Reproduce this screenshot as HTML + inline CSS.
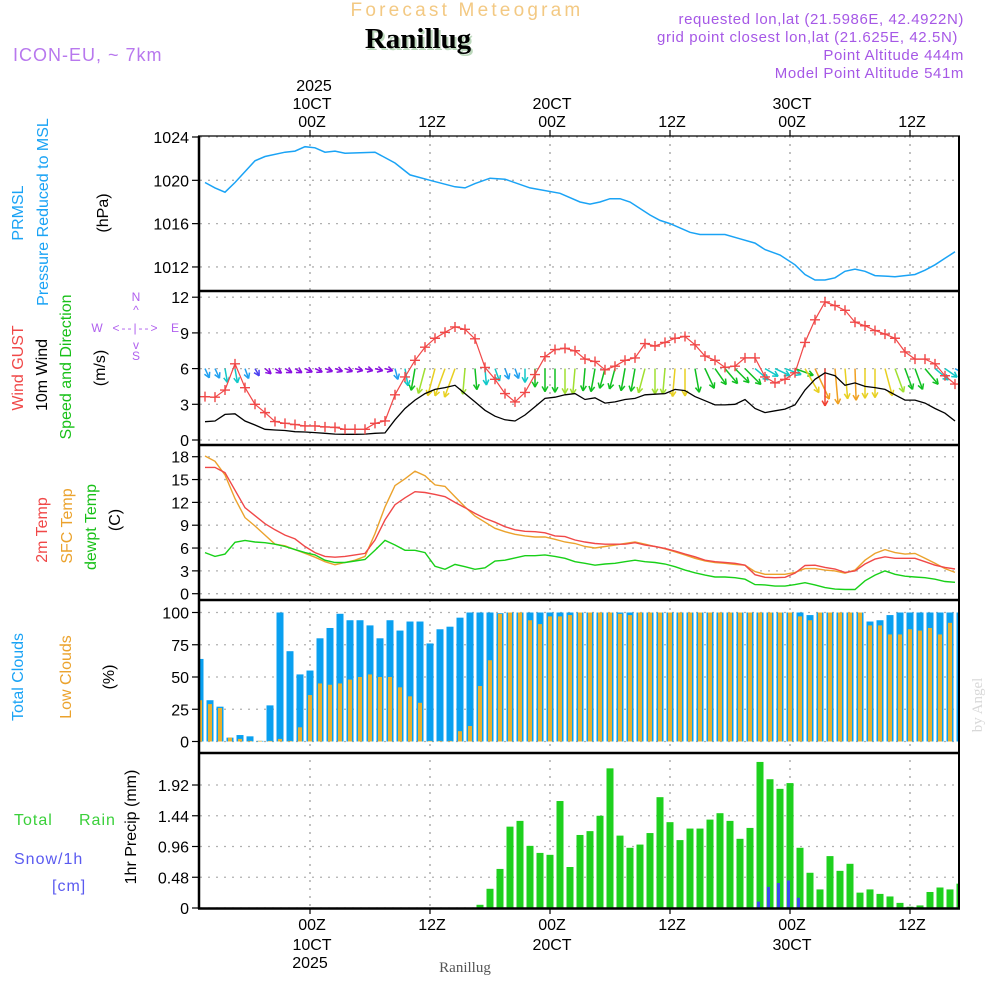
<!DOCTYPE html>
<html><head><meta charset="utf-8"><style>
html,body{margin:0;padding:0;background:#fff;}
svg{display:block;font-family:"Liberation Sans",sans-serif;}
</style></head><body>
<svg id="chart" width="1000" height="1000" viewBox="0 0 1000 1000" xmlns="http://www.w3.org/2000/svg">
<defs>
<clipPath id="plotclip"><rect x="200" y="136" width="759" height="772"/></clipPath>
</defs>
<text x="467" y="16" text-anchor="middle" font-size="19" fill="#f3c983" letter-spacing="3.2">Forecast Meteogram</text>
<text x="420" y="50" text-anchor="middle" font-size="29" font-weight="bold" font-family="Liberation Serif, serif" fill="#bcd8bc">Ranillug</text>
<text x="418" y="48" text-anchor="middle" font-size="29" font-weight="bold" font-family="Liberation Serif, serif" fill="#000">Ranillug</text>
<text x="13" y="61" font-size="18" fill="#b878ee" letter-spacing="1">ICON-EU, ~ 7km</text>
<g font-size="15" fill="#a658e6" text-anchor="end" letter-spacing="0.6">
<text x="964" y="24">requested lon,lat (21.5986E, 42.4922N)</text>
<text x="958" y="42">grid point closest lon,lat (21.625E, 42.5N)</text>
<text x="964" y="60">Point Altitude 444m</text>
<text x="964" y="78">Model Point Altitude 541m</text>
</g>
<text x="465" y="972" text-anchor="middle" font-size="15" font-family="Liberation Serif, serif" fill="#555">Ranillug</text>
<text transform="translate(982,705) rotate(-90)" text-anchor="middle" font-size="15" font-family="Liberation Serif, serif" fill="#d8d8d8">by Angel</text>
<g id="labels" font-size="16"></g>
<g id="grid"></g>
<g id="marks" clip-path="url(#plotclip)"></g>
<g id="axes"></g>
</svg>
<script>
// ---- data ----
const timeTickHours = [11, 23, 35, 47, 59, 71];
const timeTickLabels = ["00Z", "12Z", "00Z", "12Z", "00Z", "12Z"];
const dateLabels = ["10CT", "", "20CT", "", "30CT", ""];
const pressureTicks = [1012, 1016, 1020, 1024];
const windTicks = [0, 3, 6, 9, 12];
const tempTicks = [0, 3, 6, 9, 12, 15, 18];
const cloudTicks = [0, 25, 50, 75, 100];
const precipTicks = [0, 0.48, 0.96, 1.44, 1.92];
const precipTickLabels = ["0", "0.48", "0.96", "1.44", "1.92"];

const pressureHours = [0,1,2,3,5,6,8,9,10,11,12,13,14,17,19,20.5,22.5,25,26,27,28.5,30,32.5,35.5,37.5,38.5,39.5,40.5,41.5,42.5,44.5,45.5,46.5,48.5,49.5,52,53.5,55,56,57.5,59,60,61,62,63,64,65,66,67,69,71,72,73,74,75];
const pressureVals = [1019.8,1019.3,1018.9,1019.8,1021.8,1022.2,1022.6,1022.7,1023.1,1023.0,1022.6,1022.7,1022.5,1022.6,1021.6,1020.5,1020.0,1019.4,1019.3,1019.7,1020.2,1020.1,1019.3,1018.8,1018.0,1017.8,1018.0,1018.3,1018.3,1018.0,1016.8,1016.3,1016.0,1015.2,1015.0,1015.0,1014.6,1014.2,1013.6,1013.1,1012.2,1011.3,1010.8,1010.8,1011.0,1011.6,1011.8,1011.6,1011.2,1011.1,1011.3,1011.7,1012.2,1012.8,1013.4];

const windGust = [3.64,3.6,4.2,6.4,4.4,3.0,2.3,1.55,1.4,1.3,1.18,1.18,1.1,1.06,0.9,0.9,0.9,1.4,1.6,3.8,5.3,6.7,7.8,8.55,9.05,9.5,9.3,8.5,6.1,5.1,3.9,3.2,4.0,5.5,7.0,7.6,7.7,7.5,6.8,6.6,5.9,6.2,6.7,6.9,8.1,7.9,8.2,8.55,8.7,8.0,7.05,6.7,6.1,6.2,6.9,6.9,5.3,4.8,5.1,5.65,8.2,10.1,11.6,11.3,10.9,9.9,9.6,9.2,8.9,8.55,7.4,6.8,6.8,6.4,5.4,4.7];
const windSpeed = [1.54,1.6,2.15,2.2,1.6,1.26,0.9,0.84,0.8,0.7,0.67,0.62,0.56,0.5,0.48,0.48,0.5,0.56,0.6,1.7,2.65,3.35,3.9,4.25,4.4,4.6,3.9,3.2,2.5,2.0,1.7,1.6,2.1,2.8,3.5,3.6,3.8,3.9,3.4,3.55,3.1,3.2,3.4,3.5,3.8,3.85,3.9,4.25,4.15,3.65,3.3,2.95,2.95,3.0,3.4,2.65,2.3,2.45,2.6,2.95,4.2,5.1,5.65,5.4,4.6,4.8,4.5,4.4,4.25,3.8,3.35,3.35,3.1,2.65,2.25,1.6];
const windArrowAngle = [65,65,80,80,70,60,40,35,30,30,25,25,20,20,20,15,15,15,15,75,80,100,105,105,110,110,95,85,85,70,70,70,90,90,90,90,90,95,95,100,105,105,100,100,105,90,95,95,90,80,65,55,50,45,45,40,30,25,20,20,60,65,90,85,85,88,90,90,75,70,70,70,50,40,35,30];

const temp2m = [16.6,16.6,15.9,13.6,11.3,10.25,9.2,8.4,7.7,7.2,6.2,5.4,4.9,4.8,4.9,5.1,5.3,7.05,9.7,11.7,12.6,13.4,13.3,13.05,12.75,12.0,11.3,10.55,9.9,9.4,8.8,8.4,8.2,8.15,8.0,7.6,7.5,7.05,6.8,6.6,6.5,6.5,6.5,6.7,6.4,6.2,5.95,5.6,5.2,4.85,4.4,4.2,4.1,4.0,3.75,2.5,2.15,2.1,2.15,2.7,3.7,3.75,3.45,3.25,2.8,3.0,3.9,4.55,4.85,4.65,4.65,4.65,4.2,3.75,3.45,3.25];
const tempSfc = [18.1,17.4,15.6,12.5,10.0,8.9,7.7,6.5,6.3,5.8,5.3,4.8,4.2,3.8,4.1,4.4,4.9,7.9,11.4,14.2,15.1,16.1,15.5,14.3,14.1,12.75,11.4,10.2,9.4,8.6,8.15,7.8,7.6,7.45,7.45,7.15,6.8,6.6,6.2,6.0,6.2,6.4,6.6,6.8,6.5,6.2,5.9,5.5,5.1,4.65,4.3,4.1,4.0,3.85,3.75,2.9,2.55,2.55,2.55,2.8,3.3,3.3,3.1,3.0,2.7,3.1,4.4,5.3,5.8,5.4,5.2,5.3,4.65,4.0,3.3,2.8];
const tempDew = [5.4,4.9,5.2,6.75,7.0,6.8,6.7,6.5,6.2,5.8,5.4,5.1,4.4,4.1,4.1,4.3,4.5,5.7,7.0,6.4,5.7,5.7,5.4,3.6,3.2,3.85,3.55,3.2,3.4,4.3,4.4,4.7,5.0,5.0,5.1,4.9,4.65,4.2,4.0,3.75,3.9,4.0,4.2,4.4,4.2,4.1,3.9,3.55,3.1,2.75,2.45,2.2,2.2,2.1,1.9,1.2,1.15,1.0,1.0,1.2,1.45,1.15,0.8,0.6,0.55,0.55,1.7,2.45,3.0,2.55,2.3,2.2,2.1,1.9,1.6,1.5];

const cloudTotal = [64,32,27,3,5,4,0.5,28,100,70,52,55,80,88,99,94,94,90,80,94,86,93,93,76,87,89,96,100,100,100,99.5,100,100,100,100,100,100,100,100,100,100,100,100,100,100,100,100,100,100,100,100,100,100,100,100,100,100,100,100,100,100,98,100,100,100,100,100,93,94,98,100,100,100,100,100,100,100];
const cloudLow = [32,29,26,3,2,0.5,0.5,0.5,2,0.5,11,36,45,44,45,48,50,52,50,50,42,35,30,0.5,0.5,0.5,8,12,43,63,99,100,100,94,91,97,97,98,100,100,100,100,99,98,100,100,100,100,100,100,100,100,100,100,100,100,100,100,100,100,97,94,100,100,100,100,100,90,90,83,83,87,86,88,83,92,82];

const precipRain = [0,0,0,0,0,0,0,0,0,0,0,0,0,0,0,0,0,0,0,0,0,0,0,0,0,0,0,0,0.05,0.30,0.61,1.27,1.36,0.97,0.86,0.83,1.67,0.64,1.14,1.20,1.44,2.18,1.13,0.94,0.99,1.17,1.73,1.34,1.06,1.24,1.24,1.38,1.48,1.36,1.08,1.25,2.28,2.01,1.86,1.95,0.94,0.55,0.29,0.81,0.58,0.69,0.24,0.29,0.22,0.18,0.08,0.02,0.04,0.25,0.32,0.29,0.38];
const precipSnow = [0,0,0,0,0,0,0,0,0,0,0,0,0,0,0,0,0,0,0,0,0,0,0,0,0,0,0,0,0,0,0,0,0,0,0,0,0,0,0,0,0,0,0,0,0,0,0,0,0,0,0,0,0,0,0,0,0.10,0.33,0.39,0.43,0.16,0,0,0,0,0,0,0,0,0,0,0,0,0,0,0,0];

// ---- scales ----
const NS = "http://www.w3.org/2000/svg";
const X0 = 200, X1 = 959, PX = 10;
const xBar = j => X0 + j * PX;
const xLine = k => X0 + (k + 0.5) * PX;
const yP = p => 137 + (1024 - p) * 10.83;
const yW = v => 440 - v * 11.9;
const yT = t => 593.7 - t * 7.61;
const yC = c => 741.5 - c * 1.29;
const yR = r => 908 - r * 64.06;

const labels = document.getElementById('labels');
const grid = document.getElementById('grid');
const marks = document.getElementById('marks');
const axes = document.getElementById('axes');

function mk(tag, parent, attrs) {
  const e = document.createElementNS(NS, tag);
  for (const k in attrs) e.setAttribute(k, attrs[k]);
  parent.appendChild(e);
  return e;
}
function txt(parent, x, y, s, attrs) {
  const e = mk('text', parent, Object.assign({x: x, y: y}, attrs || {}));
  e.textContent = s;
  return e;
}

// ---- grid ----
function hgrid(vals, fy, name) {
  vals.forEach(v => {
    const l = mk('line', grid, {x1: X0, x2: X1, y1: fy(v), y2: fy(v), stroke: '#b0b0b0', 'stroke-width': 1.3, 'stroke-dasharray': '2,6'});
    
    
  });
}
hgrid(pressureTicks, yP, 'pressure');
hgrid(windTicks, yW, 'wind');
hgrid(tempTicks, yT, 'temp');
hgrid(cloudTicks, yC, 'cloud');
hgrid(precipTicks, yR, 'precip');
timeTickHours.forEach(h => {
  const l = mk('line', grid, {x1: xBar(h), x2: xBar(h), y1: 136, y2: 908, stroke: '#a0a0a0', 'stroke-width': 1.3, 'stroke-dasharray': '2,6'});
  
  
});

// ---- pressure ----
{
  const d = pressureHours.map((h, i) => (i ? 'L' : 'M') + xLine(h).toFixed(1) + ',' + yP(pressureVals[i]).toFixed(1)).join('');
  const p = mk('path', marks, {d: d, fill: 'none', stroke: '#1aa3f5', 'stroke-width': 1.5});
  
  
}

// ---- wind ----
function speedColor(s) {
  if (s < 1.1) return '#8a10e0';
  if (s < 1.3) return '#4a40f0';
  if (s < 2.0) return '#20a0f0';
  if (s < 2.8) return '#10c8c8';
  if (s < 3.7) return '#10c020';
  if (s < 4.0) return '#a0e030';
  if (s < 4.7) return '#e8d020';
  if (s < 5.5) return '#f0a020';
  return '#f04030';
}
windSpeed.forEach((s, k) => {
  const x = xLine(k), y = yW(6);
  const len = Math.max(8, s * 6.6);
  const a = windArrowAngle[k] * Math.PI / 180;
  const hx = x + len * Math.cos(a), hy = y + len * Math.sin(a);
  const c = speedColor(s);
  const g = mk('g', marks, {stroke: c, 'stroke-width': 1.5, fill: 'none'});
  
  
  mk('line', g, {x1: x, y1: y, x2: hx, y2: hy});
  [0.5, -0.5].forEach(da => {
    const b = a + Math.PI + da;
    mk('line', g, {x1: hx, y1: hy, x2: hx + 6 * Math.cos(b), y2: hy + 6 * Math.sin(b)});
  });
});
{
  const d = windSpeed.map((v, k) => (k ? 'L' : 'M') + xLine(k) + ',' + yW(v).toFixed(1)).join('');
  const p = mk('path', marks, {d: d, fill: 'none', stroke: '#000', 'stroke-width': 1.3});
  
  
  const d2 = windGust.map((v, k) => (k ? 'L' : 'M') + xLine(k) + ',' + yW(v).toFixed(1)).join('');
  const p2 = mk('path', marks, {d: d2, fill: 'none', stroke: '#f04848', 'stroke-width': 1.2});
  
  
  windGust.forEach((v, k) => {
    const x = xLine(k), y = yW(v);
    const m = mk('path', marks, {d: `M${x-5},${y}H${x+5}M${x},${y-5}V${y+5}`, stroke: '#f04848', 'stroke-width': 1.4});
    
    
  });
}

// ---- temperature ----
[[tempSfc, '#eba22c', 'sfc-temp-line'], [temp2m, '#f04848', 'temp-2m-line'], [tempDew, '#18d018', 'dewpoint-line']].forEach(([arr, col, name]) => {
  const d = arr.map((v, k) => (k ? 'L' : 'M') + xLine(k) + ',' + yT(v).toFixed(1)).join('');
  const p = mk('path', marks, {d: d, fill: 'none', stroke: col, 'stroke-width': 1.4});
  
  
});

// ---- clouds ----
cloudTotal.forEach((v, j) => {
  const x = xBar(j);
  const r = mk('rect', marks, {x: x - 3.5, y: yC(v), width: 7, height: yC(0) - yC(v), fill: '#0aa0f0'});
  
  
  const lv = cloudLow[j];
  const r2 = mk('rect', marks, {x: x - 2, y: yC(lv), width: 4, height: yC(0) - yC(lv), fill: '#e8b030'});
  
  
});

// ---- precipitation ----
precipRain.forEach((v, j) => {
  if (v <= 0) return;
  const x = xBar(j);
  const r = mk('rect', marks, {x: x - 3.5, y: yR(v), width: 7, height: yR(0) - yR(v), fill: '#1ed01e'});
  
  
});
precipSnow.forEach((v, j) => {
  if (v <= 0) return;
  const x = xBar(j);
  const r = mk('rect', marks, {x: x - 3, y: yR(v), width: 3, height: yR(0) - yR(v), fill: '#3a48f0'});
  
  
});

// ---- axes & frames ----
function frame(y, name) {
  const l = mk('line', axes, {x1: 198, x2: 960, y1: y, y2: y, stroke: '#000', 'stroke-width': 2.5});
  
  
}
{
  const t = mk('line', axes, {x1: 198, x2: 960, y1: 136, y2: 136, stroke: '#000', 'stroke-width': 1.2});
  
  
}
frame(291, 'pressure-wind-divider');
frame(445, 'wind-temp-divider');
frame(600, 'temp-cloud-divider');
frame(753, 'cloud-precip-divider');
frame(908.5, 'bottom-border');
{
  const l = mk('line', axes, {x1: 199, x2: 199, y1: 136, y2: 909, stroke: '#000', 'stroke-width': 2.5});
  
  
  const r = mk('line', axes, {x1: 959, x2: 959, y1: 136, y2: 909, stroke: '#000', 'stroke-width': 2});
  
  
}
function yaxis(vals, fy, texts, name) {
  vals.forEach((v, i) => {
    const y = fy(v);
    const t = mk('line', axes, {x1: 192, x2: 199, y1: y, y2: y, stroke: '#000', 'stroke-width': 1.2});
    
    
    const lb = txt(axes, 189, y + 6, texts ? texts[i] : String(v), {'text-anchor': 'end', 'font-size': 16, fill: '#000'});
    
    
  });
}
yaxis(pressureTicks, yP, null, 'pressure');
yaxis(windTicks, yW, null, 'wind');
yaxis(tempTicks, yT, null, 'temp');
yaxis(cloudTicks, yC, null, 'cloud');
yaxis(precipTicks, yR, precipTickLabels, 'precip');

timeTickHours.forEach((h, i) => {
  const x = xBar(h);
  const t1 = mk('line', axes, {x1: x, x2: x, y1: 130, y2: 136, stroke: '#000', 'stroke-width': 1.2});
  
  
  const t2 = mk('line', axes, {x1: x, x2: x, y1: 908, y2: 914, stroke: '#000', 'stroke-width': 1.2});
  
  
  const a = txt(axes, x + 2, 127, timeTickLabels[i], {'text-anchor': 'middle', 'font-size': 16});
  
  
  const b = txt(axes, x + 2, 930, timeTickLabels[i], {'text-anchor': 'middle', 'font-size': 16});
  
  
  if (dateLabels[i]) {
    const c = txt(axes, x + 2, 109, dateLabels[i], {'text-anchor': 'middle', 'font-size': 16});
    
    
    const d = txt(axes, x + 2, 950, dateLabels[i], {'text-anchor': 'middle', 'font-size': 16});
    
    
  }
  if (i === 0) {
    const e = txt(axes, x + 4, 91, '2025', {'text-anchor': 'middle', 'font-size': 16});
    
    
    const f = txt(axes, x, 968, '2025', {'text-anchor': 'middle', 'font-size': 16});
    
    
  }
});

// ---- panel labels ----
function vlabel(x, cy, s, col, name) {
  const e = txt(labels, 0, 0, s, {transform: `translate(${x},${cy}) rotate(-90)`, 'text-anchor': 'middle', fill: col, 'font-size': 16});
  
  
}
vlabel(23, 213, 'PRMSL', '#1aa3f5', 'prmsl-label');
vlabel(48, 212, 'Pressure Reduced to MSL', '#1aa3f5', 'pressure-label');
vlabel(108, 213, '(hPa)', '#000', 'pressure-unit');
vlabel(23, 368, 'Wind GUST', '#f04848', 'gust-label');
vlabel(47, 375, '10m Wind', '#000', 'wind-label');
vlabel(71, 367, 'Speed and Direction', '#18c018', 'wind-direction-label');
vlabel(105, 368, '(m/s)', '#000', 'wind-unit');
vlabel(47, 530, '2m Temp', '#f04848', 'temp-2m-label');
vlabel(72, 526, 'SFC Temp', '#eba22c', 'sfc-temp-label');
vlabel(96, 527, 'dewpt Temp', '#18c018', 'dewpoint-label');
vlabel(120, 520, '(C)', '#000', 'temp-unit');
vlabel(23, 677, 'Total Clouds', '#1aa3f5', 'total-clouds-label');
vlabel(71, 677, 'Low Clouds', '#eba22c', 'low-clouds-label');
vlabel(114, 677, '(%)', '#000', 'cloud-unit');
vlabel(136, 827, '1hr Precip (mm)', '#000', 'precip-label');
{
  const a = txt(labels, 14, 825, 'Total', {fill: '#3ad03a', 'font-size': 16, 'letter-spacing': 1});
  
  
  const b = txt(labels, 79, 825, 'Rain', {fill: '#3ad03a', 'font-size': 16, 'letter-spacing': 1});
  
  
  const c = txt(labels, 14, 864, 'Snow/1h', {fill: '#5a5af0', 'font-size': 16, 'letter-spacing': 1});
  
  
  const d = txt(labels, 52, 891, '[cm]', {fill: '#5a5af0', 'font-size': 16, 'letter-spacing': 1});
  
  
  const cg = mk('g', labels, {fill: '#b060ee', 'font-size': 12, 'text-anchor': 'middle'});
  
  
  txt(cg, 136, 301, 'N');
  txt(cg, 136, 314, '^');
  txt(cg, 136, 332, '<--|-->', {'letter-spacing': '2'});
  txt(cg, 97, 332, 'W');
  txt(cg, 175, 332, 'E');
  txt(cg, 136, 349, 'v');
  txt(cg, 136, 360, 'S');
}
</script>
</body></html>
